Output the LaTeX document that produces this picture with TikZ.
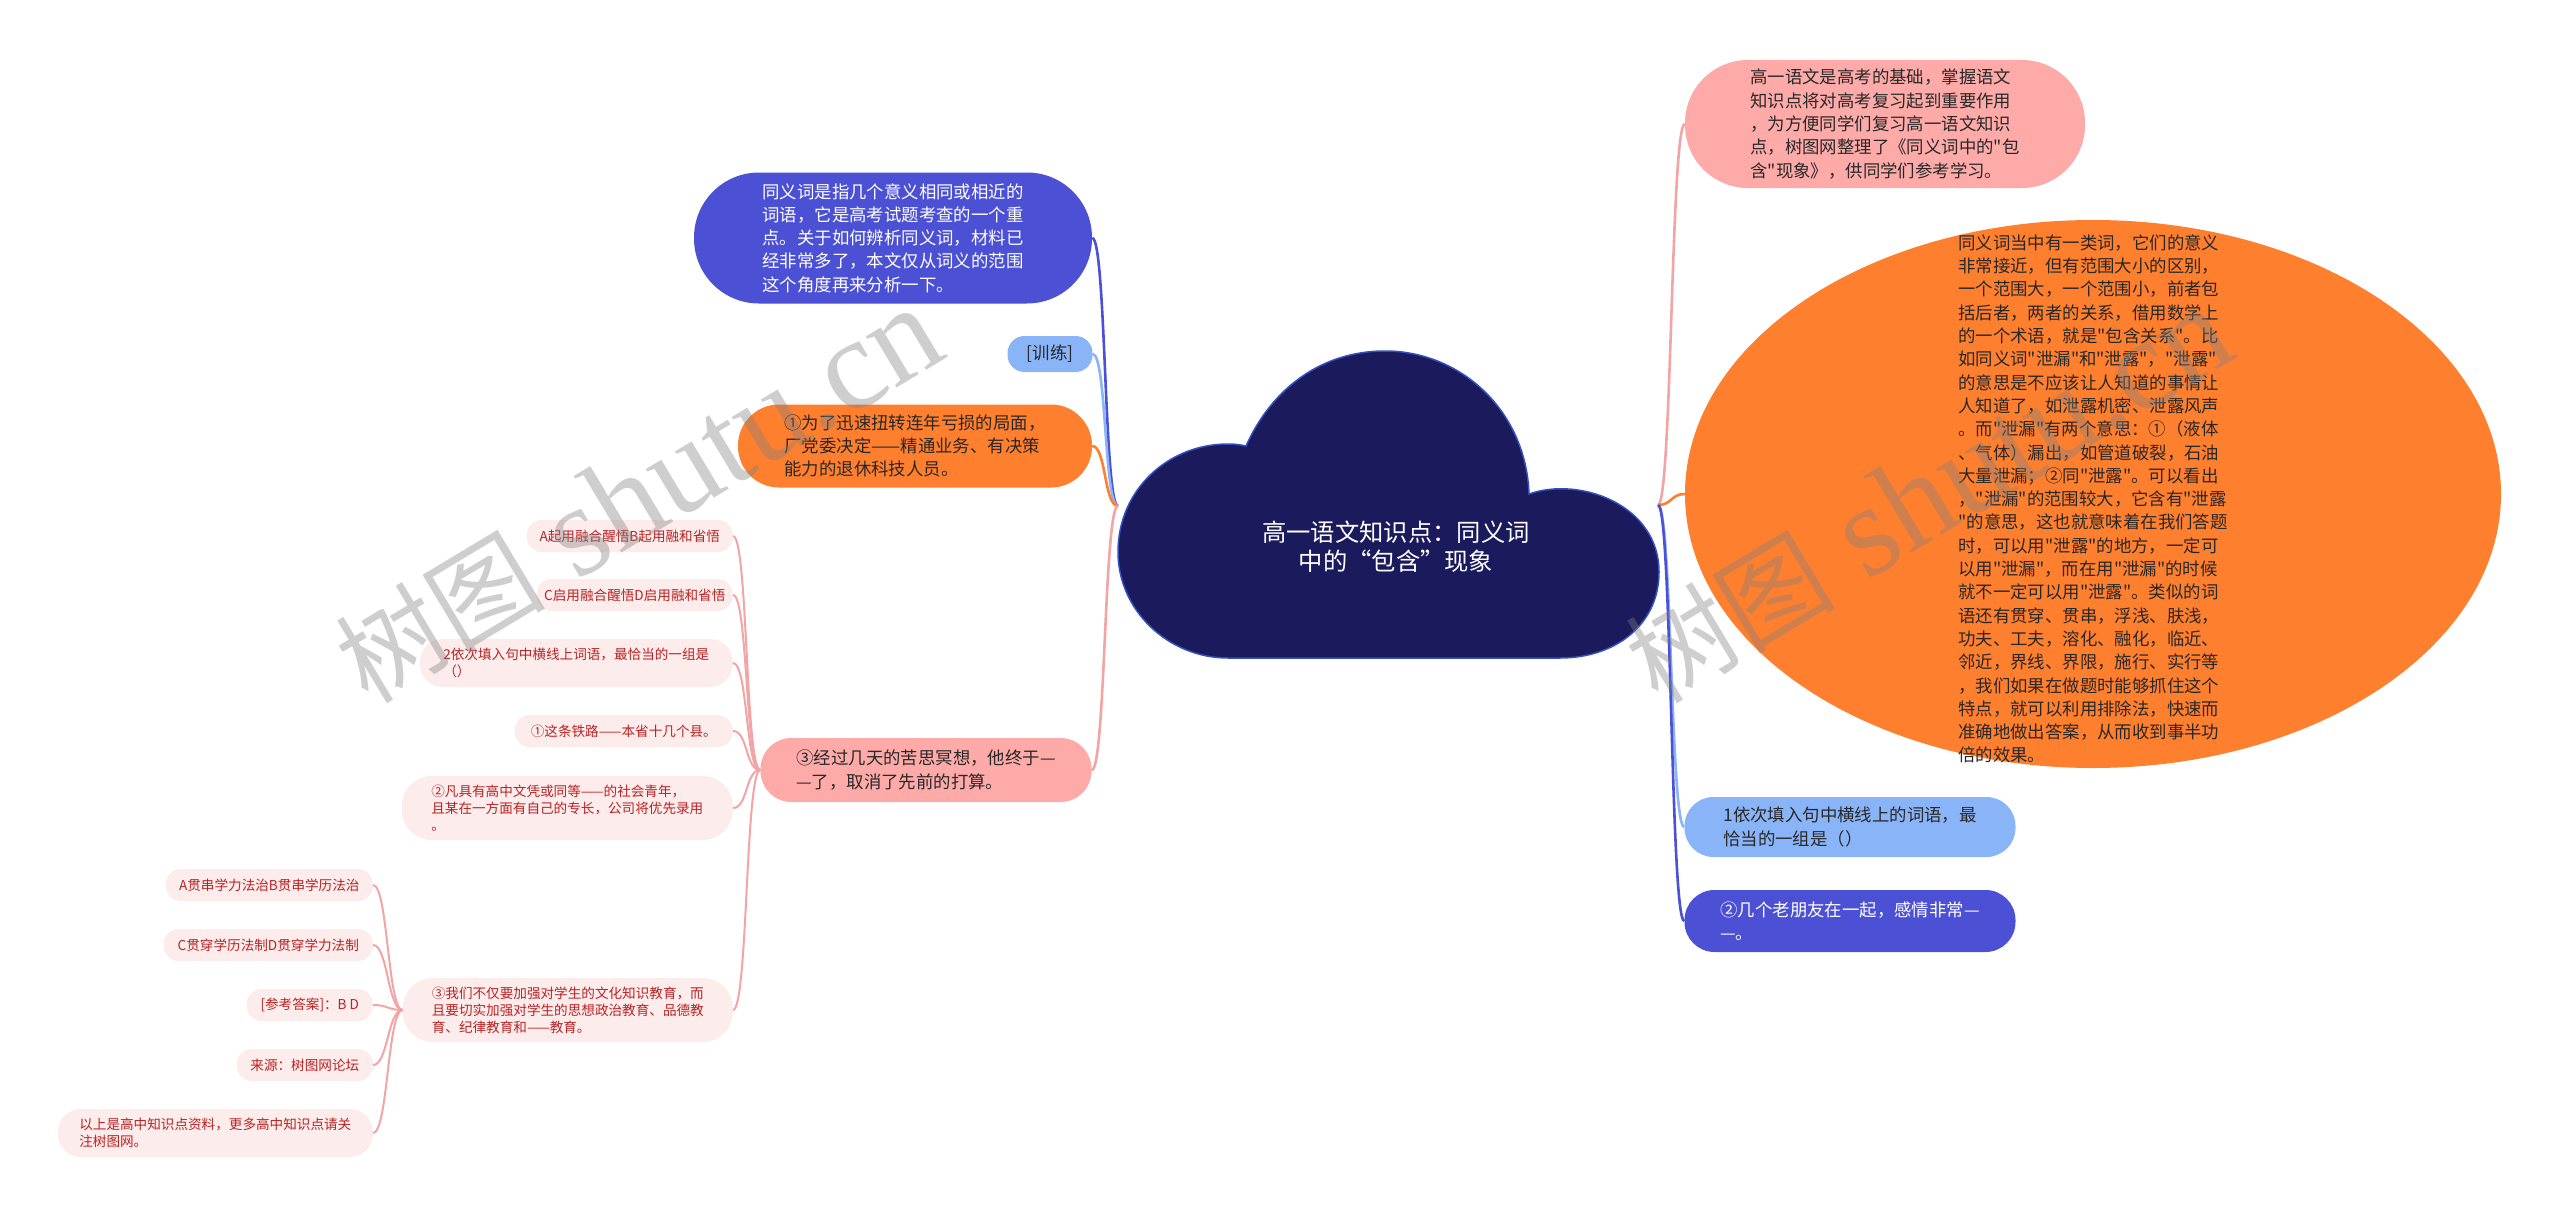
\documentclass[tikz,border=0pt]{standalone}
\usepackage{fontspec}
\setmainfont{Noto Sans CJK SC}[Ligatures=TeXOff]
\newfontfamily\wmlatin{Liberation Serif}
\usetikzlibrary{shapes.geometric}
\definecolor{navy}{RGB}{27,26,92}
\definecolor{cloudB}{RGB}{50,80,190}
\definecolor{blueN}{RGB}{75,80,213}
\definecolor{lblue}{RGB}{138,180,248}
\definecolor{orangeN}{RGB}{254,127,46}
\definecolor{pinkN}{RGB}{253,170,168}
\definecolor{lpink}{RGB}{253,236,236}
\definecolor{redT}{RGB}{185,35,35}
\definecolor{pinkL}{RGB}{243,165,165}
\definecolor{darkT}{RGB}{40,40,40}
\tikzset{
  conn/.style={line width=2.6pt},
  subconn/.style={line width=2pt, draw=pinkL},
  mainfont/.style={font=\fontsize{17.4}{23.3}\selectfont},
  pill/.style={inner sep=0pt, align=left, mainfont},
  kid/.style={inner sep=0pt, align=left, fill=lpink, text=redT, font=\fontsize{13.6}{16.8}\selectfont, anchor=east},
  wm/.style={text=gray, text opacity=0.38, inner sep=0pt},
}
\begin{document}
\begin{tikzpicture}[x=1pt,y=-1pt]
\useasboundingbox (0,0) rectangle (2560,1215);
\fill[white] (0,0) rectangle (2560,1215);

% cloud
\path[fill=navy, draw=cloudB, line width=1.5pt]
  (1246,446) .. controls (1272,388) and (1322,351) .. (1385,351)
  .. controls (1460,351) and (1526,410) .. (1529,494)
  .. controls (1580,476) and (1659,505) .. (1659,572)
  .. controls (1659,625) and (1615,658) .. (1560,658)
  -- (1228,658)
  .. controls (1168,658) and (1118,610) .. (1118,552)
  .. controls (1118,490) and (1168,444) .. (1228,444)
  .. controls (1236,444) and (1241,445) .. (1246,446) -- cycle;
\node[text=white, font=\fontsize{24.3}{29}\selectfont, align=center] (root) at (1396,547) {高一语文知识点：同义词\\中的“包含”现象};
\coordinate (hubL) at (1118,506);
\coordinate (hubR) at (1658,505);

% right side
\node[pill, fill=pinkN, text=darkT, minimum width=400, minimum height=128, rounded corners=63] (R1) at (1885,124)
 {高一语文是高考的基础，掌握语文\\知识点将对高考复习起到重要作用\\，为方便同学们复习高一语文知识\\点，树图网整理了《同义词中的"包\\含"现象》，供同学们参考学习。};
\node[ellipse, fill=orangeN, minimum width=816, minimum height=548, inner sep=0pt] (R2) at (2093,494) {};
\node[pill, text=darkT] (R2t) at (2093,499)
 {同义词当中有一类词，它们的意义\\非常接近，但有范围大小的区别，\\一个范围大，一个范围小，前者包\\括后者，两者的关系，借用数学上\\的一个术语，就是"包含关系"。比\\如同义词"泄漏"和"泄露"，"泄露"\\的意思是不应该让人知道的事情让\\人知道了，如泄露机密、泄露风声\\。而"泄漏"有两个意思：①（液体\\、气体）漏出，如管道破裂，石油\\大量泄漏；②同"泄露"。可以看出\\，"泄漏"的范围较大，它含有"泄露\\"的意思，这也就意味着在我们答题\\时，可以用"泄露"的地方，一定可\\以用"泄漏"，而在用"泄漏"的时候\\就不一定可以用"泄露"。类似的词\\语还有贯穿、贯串，浮浅、肤浅，\\功夫、工夫，溶化、融化，临近、\\邻近，界线、界限，施行、实行等\\，我们如果在做题时能够抓住这个\\特点，就可以利用排除法，快速而\\准确地做出答案，从而收到事半功\\倍的效果。};
\node[pill, fill=lblue, text=darkT, minimum width=331, minimum height=60, rounded corners=29] (R3) at (1850,827)
 {1依次填入句中横线上的词语，最\\恰当的一组是（）};
\node[pill, fill=blueN, text=white, minimum width=331, minimum height=62, rounded corners=30] (R4) at (1850,921)
 {②几个老朋友在一起，感情非常—\\—。};

% left side
\node[pill, fill=blueN, text=white, minimum width=398, minimum height=131, rounded corners=65] (L1) at (893,238)
 {同义词是指几个意义相同或相近的\\词语，它是高考试题考查的一个重\\点。关于如何辨析同义词，材料已\\经非常多了，本文仅从词义的范围\\这个角度再来分析一下。};
\node[pill, fill=lblue, text=darkT, minimum width=85, minimum height=36, rounded corners=17] (L2) at (1050,354) {[训练]};
\node[pill, fill=orangeN, text=darkT, minimum width=354, minimum height=83, rounded corners=41] (L3) at (915,446)
 {①为了迅速扭转连年亏损的局面，\\厂党委决定——精通业务、有决策\\能力的退休科技人员。};
\node[pill, fill=pinkN, text=darkT, minimum width=331, minimum height=64, rounded corners=31] (L4) at (926,770)
 {③经过几天的苦思冥想，他终于—\\—了，取消了先前的打算。};

% children of L4
\node[kid, minimum width=206, minimum height=32, rounded corners=15] (ca) at (733,536) {A起用融合醒悟B起用融和省悟};
\node[kid, minimum width=196, minimum height=32, rounded corners=15] (cb) at (733,595) {C启用融合醒悟D启用融和省悟};
\node[kid, minimum width=313, minimum height=48, rounded corners=23] (cc) at (733,663) {2依次填入句中横线上词语，最恰当的一组是\\（）};
\node[kid, minimum width=218, minimum height=32, rounded corners=15] (cd) at (733,731) {①这条铁路——本省十几个县。};
\node[kid, minimum width=331, minimum height=64, rounded corners=30] (ce) at (733,808) {②凡具有高中文凭或同等——的社会青年，\\且某在一方面有自己的专长，公司将优先录用\\。};
\node[kid, minimum width=330, minimum height=64, rounded corners=30] (cf) at (733,1010) {③我们不仅要加强对学生的文化知识教育，而\\且要切实加强对学生的思想政治教育、品德教\\育、纪律教育和——教育。};

% children of cf
\node[kid, minimum width=207, minimum height=32, rounded corners=15] (fa) at (373,885) {A贯串学力法治B贯串学历法治};
\node[kid, minimum width=209, minimum height=32, rounded corners=15] (fb) at (373,945) {C贯穿学历法制D贯穿学力法制};
\node[kid, minimum width=126, minimum height=32, rounded corners=15] (fc) at (373,1005) {[参考答案]：B D};
\node[kid, minimum width=136, minimum height=32, rounded corners=15] (fd) at (373,1065) {来源：树图网论坛};
\node[kid, minimum width=315, minimum height=48, rounded corners=23] (fe) at (373,1133) {以上是高中知识点资料，更多高中知识点请关\\注树图网。};

% main connectors
\draw[conn, draw=blueN] (hubL) .. controls +(-14,0) and +(14,0) .. (L1.east);
\draw[conn, draw=lblue] (hubL) .. controls +(-14,0) and +(14,0) .. (L2.east);
\draw[conn, draw=orangeN] (hubL) .. controls +(-14,0) and +(14,0) .. (L3.east);
\draw[conn, draw=pinkL] (hubL) .. controls +(-14,0) and +(14,0) .. (L4.east);
\draw[conn, draw=pinkL] (hubR) .. controls +(14,0) and +(-14,0) .. (R1.west);
\draw[conn, draw=orangeN] (hubR) .. controls +(14,0) and +(-14,0) .. (R2.west);
\draw[conn, draw=lblue] (hubR) .. controls +(14,0) and +(-14,0) .. (R3.west);
\draw[conn, draw=blueN] (hubR) .. controls +(14,0) and +(-14,0) .. (R4.west);

% sub connectors
\foreach \k in {ca,cb,cc,cd,ce,cf}
  \draw[subconn] (L4.west) .. controls +(-15,0) and +(15,0) .. (\k.east);
\foreach \k in {fa,fb,fc,fd,fe}
  \draw[subconn] (cf.west) .. controls +(-15,0) and +(15,0) .. (\k.east);

% watermarks
\node[wm, rotate=31, anchor=base west] (wm1) at (368,706) {{\fontsize{105}{105}\selectfont 树图}{\wmlatin\fontsize{130}{130}\selectfont\ shutu.cn}};
\node[wm, rotate=31, anchor=base west] (wm2) at (1658,706) {{\fontsize{105}{105}\selectfont 树图}{\wmlatin\fontsize{130}{130}\selectfont\ shutu.cn}};
\end{tikzpicture}
\end{document}
